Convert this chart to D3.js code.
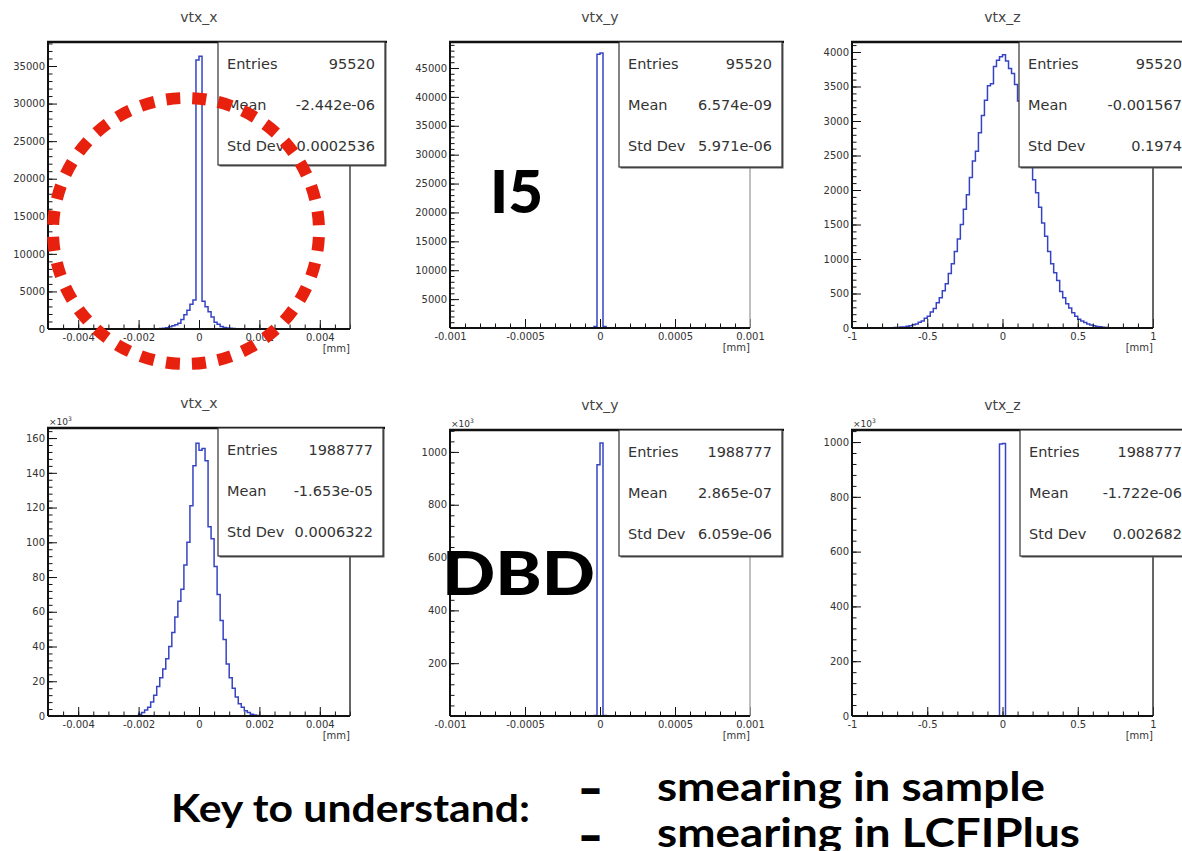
<!DOCTYPE html>
<html>
<head>
<meta charset="utf-8">
<script src="https://cdn.jsdelivr.net/npm/d3@7"></script>
<style>
  body { margin: 0; background: #fff; }
  svg { display: block; }
  .tick text { font-family: "DejaVu Sans", sans-serif; font-size: 10px; fill: #333; }
  .tick line { stroke: #111; }
</style>
</head>
<body>
<svg id="chart" width="1182" height="851"></svg>
<script>
// ---------- data ----------
const statLabels = ['Entries', 'Mean', 'Std Dev'];

// x tick values / labels  [mm]
const xTicksXY5 = [-0.004, -0.002, 0, 0.002, 0.004];
const xLabelsX = ['-0.004', '-0.002', '0', '0.002', '0.004'];
const xTicksY = [-0.001, -0.0005, 0, 0.0005, 0.001];
const xLabelsY = ['-0.001', '-0.0005', '0', '0.0005', '0.001'];
const xTicksZ = [-1, -0.5, 0, 0.5, 1];
const xLabelsZ = ['-1', '-0.5', '0', '0.5', '1'];

// y tick values
const yTicksXI5 = [0, 5000, 10000, 15000, 20000, 25000, 30000, 35000];
const yTicksYI5 = [5000, 10000, 15000, 20000, 25000, 30000, 35000, 40000, 45000];
const yTicksZI5 = [0, 500, 1000, 1500, 2000, 2500, 3000, 3500, 4000];
const yTicksXDBD = [0, 20, 40, 60, 80, 100, 120, 140, 160];
const yTicksYDBD = [200, 400, 600, 800, 1000];
const yTicksZDBD = [0, 200, 400, 600, 800, 1000];

// histograms: first bin low edge, bin width, bin contents
const vtxXI5Lo = -0.002, vtxXI5W = 0.0001;
const vtxXI5 = [8, 10, 14, 18, 24, 30, 40, 60, 90, 150, 300, 420, 560, 760, 1250, 1900, 2500, 3300, 3850, 35800,
                36300, 3700, 2950, 2300, 1600, 900, 620, 330, 200, 130, 90, 60, 40, 30, 20, 15, 12, 9, 7, 5];

const vtxYI5Lo = -0.0001, vtxYI5W = 0.00002;
const vtxYI5 = [0, 0, 60, 250, 47400, 47600, 260, 60, 0, 0];

const vtxZI5Lo = -0.74, vtxZI5W = 0.02;
const vtxZI5 = [4, 7, 8, 13, 16, 25, 31, 46, 58, 83, 102, 140, 172, 231, 282, 366, 440, 540, 640, 790,
                930, 1110, 1290, 1500, 1720, 1930, 2180, 2420, 2560, 2830, 3080, 3300, 3510, 3540, 3790, 3880, 3930,
                3960, 3870, 3760, 3690, 3530, 3290, 3140, 2880, 2660, 2400, 2150, 1960, 1750, 1520, 1330, 1110,
                930, 800, 690, 530, 440, 350, 290, 220, 170, 128, 100, 78, 57, 44, 32, 23, 17, 11, 9, 5, 3];

// DBD sample (bottom row), contents in units of 10^3
const vtxXDBDLo = -0.002, vtxXDBDW = 0.0001;
const vtxXDBD = [1, 2, 3.5, 5, 8, 12, 17, 22, 27, 33, 40, 48, 57, 66, 73, 87, 100, 121, 144, 157,
                 153, 154, 147, 109, 102, 86, 70, 55, 44, 30, 22, 16, 11, 7, 5, 3, 2, 1, 0.6, 0.3];

const vtxYDBDLo = -0.0001, vtxYDBDW = 0.00002;
const vtxYDBD = [0, 0, 0.5, 2, 951, 1034, 2, 0.5, 0, 0];

const vtxZDBDLo = -0.1, vtxZDBDW = 0.02;
const vtxZDBD = [0, 0, 0.3, 1, 993, 995, 1, 0.3, 0, 0];

// stats boxes
const statsXI5 = ['95520', '-2.442e-06', '0.0002536'];
const statsYI5 = ['95520', '6.574e-09', '5.971e-06'];
const statsZI5 = ['95520', '-0.001567', '0.1974'];
const statsXDBD = ['1988777', '-1.653e-05', '0.0006322'];
const statsYDBD = ['1988777', '2.865e-07', '6.059e-06'];
const statsZDBD = ['1988777', '-1.722e-06', '0.002682'];

// ---------- layout ----------
const panels = [
  { title: 'vtx_x', frame: [48, 42, 350, 329], xDomain: [-0.005, 0.005], yMax: 38195,
    xMajor: xTicksXY5, xLabels: xLabelsX, xMinorStep: 0.0005, yMajor: yTicksXI5, yMinorStep: 1000,
    lo: vtxXI5Lo, w: vtxXI5W, counts: vtxXI5, stats: statsXI5, box: [218, 42, 385, 165], rightEdge: '#444' },
  { title: 'vtx_y', frame: [450, 42, 750, 328], xDomain: [-0.001, 0.001], yMax: 49500,
    xMajor: xTicksY, xLabels: xLabelsY, xMinorStep: 0.0001, yMajor: yTicksYI5, yMinorStep: 1000,
    lo: vtxYI5Lo, w: vtxYI5W, counts: vtxYI5, stats: statsYI5, box: [619, 42, 782, 167], rightEdge: '#aaa' },
  { title: 'vtx_z', frame: [852, 42, 1153, 328], xDomain: [-1, 1], yMax: 4145,
    xMajor: xTicksZ, xLabels: xLabelsZ, xMinorStep: 0.1, yMajor: yTicksZI5, yMinorStep: 100,
    lo: vtxZI5Lo, w: vtxZI5W, counts: vtxZI5, stats: statsZI5, box: [1019, 42, 1192, 167], rightEdge: '#333' },
  { title: 'vtx_x', frame: [48, 428, 350, 716], xDomain: [-0.005, 0.005], yMax: 165.8, exp: true,
    xMajor: xTicksXY5, xLabels: xLabelsX, xMinorStep: 0.0005, yMajor: yTicksXDBD, yMinorStep: 4,
    lo: vtxXDBDLo, w: vtxXDBDW, counts: vtxXDBD, stats: statsXDBD, box: [218, 428, 383, 556], rightEdge: '#333' },
  { title: 'vtx_y', frame: [450, 430, 750, 716], xDomain: [-0.001, 0.001], yMax: 1083, exp: true,
    xMajor: xTicksY, xLabels: xLabelsY, xMinorStep: 0.0001, yMajor: yTicksYDBD, yMinorStep: 40,
    lo: vtxYDBDLo, w: vtxYDBDW, counts: vtxYDBD, stats: statsYDBD, box: [619, 430, 782, 556], rightEdge: '#aaa' },
  { title: 'vtx_z', frame: [852, 430, 1153, 716], xDomain: [-1, 1], yMax: 1044, exp: true,
    xMajor: xTicksZ, xLabels: xLabelsZ, xMinorStep: 0.1, yMajor: yTicksZDBD, yMinorStep: 40,
    lo: vtxZDBDLo, w: vtxZDBDW, counts: vtxZDBD, stats: statsZDBD, box: [1020, 430, 1192, 556], rightEdge: '#333' },
];

const svg = d3.select('#chart');
const histColor = '#3644c4';

function drawPanel(p, idx) {
  const [x0, y0, x1, y1] = p.frame;
  const x = d3.scaleLinear().domain(p.xDomain).range([x0, x1]);
  const y = d3.scaleLinear().domain([0, p.yMax]).range([y1, y0]);
  const g = svg.append('g');

  g.append('text')
    .attr('x', (x0 + x1) / 2).attr('y', y0 - 20)
    .attr('text-anchor', 'middle')
    .style('font-family', '"DejaVu Sans", sans-serif').style('font-size', '14px')
    .attr('fill', '#444')
    .text(p.title);

  // histogram outline
  g.append('clipPath').attr('id', 'clip' + idx)
    .append('rect').attr('x', x0).attr('y', y0).attr('width', x1 - x0).attr('height', y1 - y0);
  const pts = [[p.xDomain[0], 0]];
  p.counts.forEach((c, i) => pts.push([p.lo + i * p.w, c]));
  pts.push([p.lo + p.counts.length * p.w, 0]);
  pts.push([p.xDomain[1], 0]);
  const line = d3.line().x(d => x(d[0])).y(d => y(d[1])).curve(d3.curveStepAfter);
  g.append('path')
    .attr('clip-path', `url(#clip${idx})`)
    .attr('d', line(pts))
    .attr('fill', 'none').attr('stroke', histColor).attr('stroke-width', 1.5);

  // axes: ticks drawn inside the frame
  const xMinor = d3.range(p.xDomain[0], p.xDomain[1] + p.xMinorStep / 2, p.xMinorStep);
  const yMinor = d3.range(0, p.yMax, p.yMinorStep);
  g.append('g').attr('transform', `translate(0,${y1})`)
    .call(d3.axisBottom(x).tickValues(xMinor).tickFormat('').tickSize(-4.5))
    .call(a => a.select('.domain').remove());
  g.append('g').attr('transform', `translate(0,${y1})`)
    .call(d3.axisBottom(x).tickValues(p.xMajor).tickFormat((d, i) => p.xLabels[i]).tickSize(-9).tickPadding(5))
    .call(a => a.select('.domain').remove());
  g.append('g').attr('transform', `translate(${x0},0)`)
    .call(d3.axisLeft(y).tickValues(yMinor).tickFormat('').tickSize(-4.5))
    .call(a => a.select('.domain').remove());
  g.append('g').attr('transform', `translate(${x0},0)`)
    .call(d3.axisLeft(y).tickValues(p.yMajor).tickFormat(d => String(d)).tickSize(-9).tickPadding(3))
    .call(a => a.select('.domain').remove());

  // frame
  g.append('line').attr('x1', x1).attr('x2', x1).attr('y1', y0).attr('y2', y1)
    .attr('stroke', p.rightEdge).attr('stroke-width', 1.5);
  g.append('line').attr('x1', x0).attr('x2', x1).attr('y1', y1).attr('y2', y1)
    .attr('stroke', '#111').attr('stroke-width', 2);
  g.append('line').attr('x1', x0).attr('x2', x0).attr('y1', y0).attr('y2', y1)
    .attr('stroke', '#111').attr('stroke-width', 2);
  g.append('line').attr('x1', x0 - 1).attr('x2', Math.max(x1, p.box[2]) + 2).attr('y1', y0).attr('y2', y0)
    .attr('stroke', '#111').attr('stroke-width', 2.5);

  g.append('text')
    .attr('x', x1).attr('y', y1 + 23).attr('text-anchor', 'end')
    .style('font-family', '"DejaVu Sans", sans-serif').style('font-size', '10px')
    .attr('fill', '#333').text('[mm]');

  if (p.exp) {
    const t = g.append('text').attr('x', x0 + 1).attr('y', y0 - 3)
      .style('font-family', '"DejaVu Sans", sans-serif').style('font-size', '9px').attr('fill', '#333');
    t.append('tspan').text('×10');
    t.append('tspan').attr('dy', -4).style('font-size', '6px').text('3');
  }

  // stats box
  const [bx0, by0, bx1, by1] = p.box;
  g.append('rect').attr('x', bx0 + 1.5).attr('y', by0 + 1.5)
    .attr('width', bx1 - bx0).attr('height', by1 - by0).attr('fill', '#555');
  g.append('rect').attr('x', bx0).attr('y', by0)
    .attr('width', bx1 - bx0).attr('height', by1 - by0)
    .attr('fill', '#fff').attr('stroke', '#333').attr('stroke-width', 1.2);
  const rowY = [27, 68, 109];
  statLabels.forEach((lab, i) => {
    g.append('text').attr('x', bx0 + 9).attr('y', by0 + rowY[i])
      .style('font-family', '"DejaVu Sans", sans-serif').style('font-size', '14.5px')
      .attr('fill', '#333').text(lab);
    g.append('text').attr('x', bx1 - 10).attr('y', by0 + rowY[i]).attr('text-anchor', 'end')
      .style('font-family', '"DejaVu Sans", sans-serif').style('font-size', '14.5px')
      .attr('fill', '#333').text(p.stats[i]);
  });
}

panels.forEach(drawPanel);

// big labels
const bigFont = 'Lato, "Open Sans", "DejaVu Sans", sans-serif';
svg.append('text').attr('x', 490).attr('y', 213)
  .attr('textLength', 53).attr('lengthAdjust', 'spacingAndGlyphs')
  .style('font-family', bigFont).style('font-size', '59px').style('font-weight', 900)
  .attr('fill', '#000').text('I5');
svg.append('text').attr('x', 442).attr('y', 595)
  .attr('textLength', 153).attr('lengthAdjust', 'spacingAndGlyphs')
  .style('font-family', bigFont).style('font-size', '60px').style('font-weight', 900)
  .attr('fill', '#000').text('DBD');

// red dashed circle around the vtx_x peak
const circR = 133;
const period = 2 * Math.PI * circR / 32;
svg.append('circle').attr('cx', 186).attr('cy', 231).attr('r', circR)
  .attr('fill', 'none').attr('stroke', '#e8210f').attr('stroke-width', 12)
  .attr('stroke-dasharray', `14 ${period - 14}`)
  .attr('stroke-dashoffset', 14 + (period - 14) / 2);

// bottom notes
const notes = [
  { text: 'Key to understand:', x: 171, y: 822, len: 359, size: 38, sw: 0 },
  { text: '-', x: 580, y: 802, len: 21, size: 36, sw: 2.2 },
  { text: 'smearing in sample', x: 657, y: 801, len: 388, size: 40, sw: 0 },
  { text: '-', x: 580, y: 849, len: 21, size: 36, sw: 2.2 },
  { text: 'smearing in LCFIPlus', x: 657, y: 847, len: 423, size: 40, sw: 0 },
];
svg.selectAll('text.note').data(notes).enter().append('text')
  .attr('class', 'note')
  .attr('x', d => d.x).attr('y', d => d.y)
  .attr('textLength', d => d.len).attr('lengthAdjust', 'spacingAndGlyphs')
  .style('font-family', bigFont).style('font-size', d => d.size + 'px').style('font-weight', 700)
  .attr('stroke', '#000').attr('stroke-width', d => d.sw)
  .attr('fill', '#000').text(d => d.text);
</script>
</body>
</html>
